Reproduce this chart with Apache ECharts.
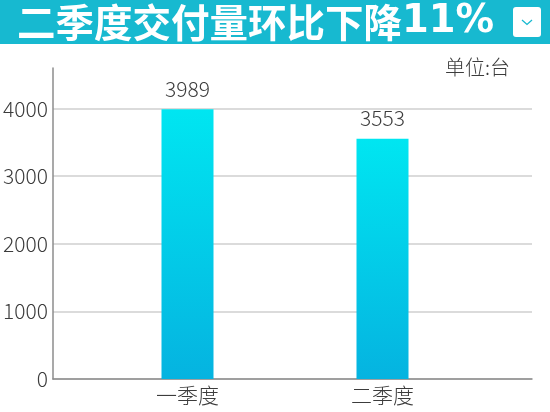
<!DOCTYPE html>
<html>
<head>
<meta charset="utf-8">
<script src="https://cdn.jsdelivr.net/npm/echarts@6/dist/echarts.min.js"></script>
<style>
html,body{margin:0;padding:0;background:#fff;}
#chart{width:550px;height:412px;}
</style>
</head>
<body>
<div id="chart"></div>
<script>
var categories = ['一季度', '二季度'];
var deliveries = [3989, 3553];
var titleMain = '二季度交付量环比下降';
var titleTail = '11%';
var unitText = '单位:台';
var yMin = 0, yMax = 4600, yInterval = 1000;

var chart = echarts.init(document.getElementById('chart'));
var cjk = '"Noto Sans CJK SC", sans-serif';
var textColor = '#3c3c3c';
var lightWeight = 300;

chart.setOption({
  animation: false,
  backgroundColor: '#ffffff',
  graphic: [
    { type: 'rect', shape: { x: 0, y: 0, width: 550, height: 44 }, style: { fill: '#17b9d0' }, z: 0 },
    { type: 'text', x: 17, y: 22, z: 2,
      style: { text: '{a|' + titleMain + '}{b|' + titleTail + '}', verticalAlign: 'middle',
        rich: {
          a: { fontFamily: cjk, fontWeight: 'bold', fontSize: 38.5, fill: '#ffffff', color: '#ffffff' },
          b: { fontFamily: '"DejaVu Sans", sans-serif', fontWeight: 'bold', fontSize: 38.5, fill: '#ffffff', color: '#ffffff' }
        } } },
    { type: 'rect', shape: { x: 513, y: 7, width: 28, height: 30, r: 3 }, style: { fill: '#ffffff' }, z: 2 },
    { type: 'polyline', shape: { points: [[522, 20], [527, 24.5], [532, 20]] }, style: { stroke: '#17b9d0', lineWidth: 1.3, fill: null }, z: 3 },
    { type: 'text', x: 445, y: 67, z: 2,
      style: { text: unitText, verticalAlign: 'middle', fontFamily: cjk, fontWeight: lightWeight, fontSize: 20, fill: textColor } }
  ],
  grid: [
    { left: 52, right: 18, top: 68, bottom: 33 },
    { left: 90, width: 390, top: 68, bottom: 33 }
  ],
  xAxis: [
    { gridIndex: 0, type: 'category', data: categories,
      axisLine: { show: true, lineStyle: { color: '#8c8c8c', width: 1.5 } },
      axisTick: { show: false }, axisLabel: { show: false }, splitLine: { show: false } },
    { gridIndex: 1, type: 'category', data: categories,
      axisLine: { show: false }, axisTick: { show: false },
      axisLabel: { fontFamily: cjk, fontWeight: lightWeight, fontSize: 21, color: textColor, margin: 6 } }
  ],
  yAxis: [
    { gridIndex: 0, type: 'value', min: yMin, max: yMax, interval: yInterval,
      axisLine: { show: true, lineStyle: { color: '#8c8c8c', width: 1.5 } },
      axisTick: { show: false },
      axisLabel: { showMaxLabel: false, fontFamily: cjk, fontWeight: lightWeight, fontSize: 21, color: textColor, margin: 5,
        formatter: function (v) { return String(v); } },
      splitLine: { show: true, showMaxLine: false, lineStyle: { color: '#cfcfcf', width: 1.5 } } },
    { gridIndex: 1, type: 'value', min: yMin, max: yMax, interval: yInterval, show: false,
      splitLine: { show: false } }
  ],
  series: [
    { type: 'bar', xAxisIndex: 1, yAxisIndex: 1, data: deliveries, barWidth: 52,
      itemStyle: { color: new echarts.graphic.LinearGradient(0, 0, 0, 1, [
        { offset: 0, color: '#00e6f1' }, { offset: 1, color: '#05b3e0' }]) },
      label: { show: true, position: 'top', distance: 10, fontFamily: cjk, fontWeight: lightWeight, fontSize: 21, color: textColor } }
  ]
});
</script>
</body>
</html>
